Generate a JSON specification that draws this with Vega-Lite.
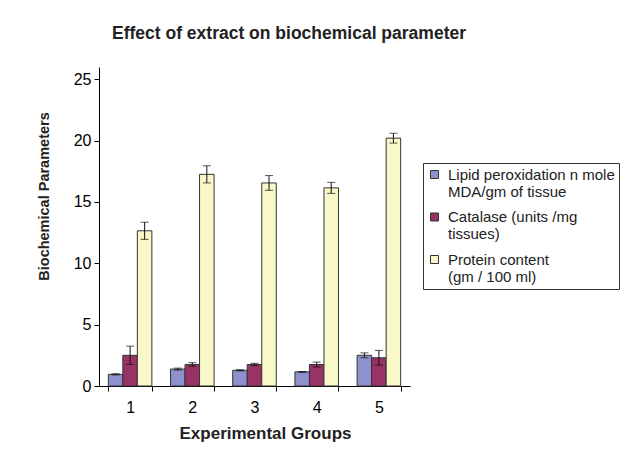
{
  "$schema": "https://vega.github.io/schema/vega-lite/v6.json",
  "autosize": "none",
  "width": 311,
  "height": 319,
  "padding": {"left": 99, "top": 67, "right": 231, "bottom": 73},
  "background": "white",
  "config": {
    "font": "Liberation Sans",
    "view": {"stroke": null},
    "axis": {"domainColor": "#000", "tickColor": "#000", "labelColor": "#000", "titleColor": "#222", "grid": false, "labelFont": "Liberation Sans", "titleFont": "Liberation Sans"}
  },
  "title": {
    "text": "Effect of extract on biochemical parameter",
    "anchor": "start",
    "frame": "group",
    "dx": 13,
    "offset": 25,
    "font": "Liberation Sans",
    "fontSize": 17.5,
    "fontWeight": "bold",
    "color": "#222"
  },
  "data": {
    "values": [
      {"group": "1", "series": "Lipid peroxidation n mole MDA/gm of tissue", "value": 0.95, "err": 0.05},
      {"group": "1", "series": "Catalase (units /mg tissues)", "value": 2.5, "err": 0.75},
      {"group": "1", "series": "Protein content (gm / 100 ml)", "value": 12.65, "err": 0.7},
      {"group": "2", "series": "Lipid peroxidation n mole MDA/gm of tissue", "value": 1.38, "err": 0.08},
      {"group": "2", "series": "Catalase (units /mg tissues)", "value": 1.75, "err": 0.15},
      {"group": "2", "series": "Protein content (gm / 100 ml)", "value": 17.25, "err": 0.7},
      {"group": "3", "series": "Lipid peroxidation n mole MDA/gm of tissue", "value": 1.28, "err": 0.05},
      {"group": "3", "series": "Catalase (units /mg tissues)", "value": 1.75, "err": 0.1},
      {"group": "3", "series": "Protein content (gm / 100 ml)", "value": 16.55, "err": 0.6},
      {"group": "4", "series": "Lipid peroxidation n mole MDA/gm of tissue", "value": 1.15, "err": 0.03},
      {"group": "4", "series": "Catalase (units /mg tissues)", "value": 1.75, "err": 0.2},
      {"group": "4", "series": "Protein content (gm / 100 ml)", "value": 16.15, "err": 0.45},
      {"group": "5", "series": "Lipid peroxidation n mole MDA/gm of tissue", "value": 2.5, "err": 0.2},
      {"group": "5", "series": "Catalase (units /mg tissues)", "value": 2.3, "err": 0.6},
      {"group": "5", "series": "Protein content (gm / 100 ml)", "value": 20.2, "err": 0.4}
    ]
  },
  "encoding": {
    "x": {
      "field": "group", "type": "nominal",
      "scale": {"paddingInner": 0.3, "paddingOuter": 0.15},
      "axis": {"title": "Experimental Groups", "labelAngle": 0, "labelFontSize": 16, "labelPadding": 8, "tickSize": 5, "tickBand": "extent", "titleFontSize": 17, "titleFontWeight": "bold", "titlePadding": 10, "titleX": 166}
    },
    "xOffset": {"field": "series", "type": "nominal", "sort": ["Lipid peroxidation n mole MDA/gm of tissue", "Catalase (units /mg tissues)", "Protein content (gm / 100 ml)"], "scale": {"paddingInner": 0, "paddingOuter": 0}}
  },
  "layer": [
    {
      "mark": {"type": "bar", "stroke": "#333", "strokeWidth": 1},
      "encoding": {
        "y": {"field": "value", "type": "quantitative", "title": "Biochemical Parameters", "scale": {"domain": [0, 25]},
          "axis": {"values": [0, 5, 10, 15, 20, 25], "labelFontSize": 16, "labelPadding": 3, "tickSize": 5, "titleFontSize": 14.5, "titleFontWeight": "bold", "titlePadding": 22, "titleY": 129}},
        "color": {
          "field": "series", "type": "nominal",
          "sort": ["Lipid peroxidation n mole MDA/gm of tissue", "Catalase (units /mg tissues)", "Protein content (gm / 100 ml)"],
          "scale": {"domain": ["Lipid peroxidation n mole MDA/gm of tissue", "Catalase (units /mg tissues)", "Protein content (gm / 100 ml)"], "range": ["#8f91cc", "#993366", "#f9f8c8"]},
          "legend": {
            "title": null,
            "orient": "none",
            "legendX": 324,
            "legendY": 96,
            "strokeColor": "#333",
            "padding": 4,
            "symbolType": "square",
            "symbolSize": 64,
            "symbolStrokeColor": "#333",
            "symbolStrokeWidth": 1,
            "labelFontSize": 15,
            "labelColor": "#222",
            "labelLimit": 300,
            "labelOffset": 6,
            "rowPadding": 9.5,
            "labelExpr": "datum.label == 'Lipid peroxidation n mole MDA/gm of tissue' ? ['Lipid peroxidation n mole', 'MDA/gm of tissue'] : datum.label == 'Catalase (units /mg tissues)' ? ['Catalase (units /mg', 'tissues)'] : ['Protein content', '(gm / 100 ml)']"
          }
        }
      }
    },
    {
      "mark": {"type": "errorbar", "ticks": {"size": 8, "color": "#111"}, "rule": {"color": "#111"}},
      "encoding": {
        "y": {"field": "value", "type": "quantitative", "title": "Biochemical Parameters"},
        "yError": {"field": "err"}
      }
    }
  ]
}
